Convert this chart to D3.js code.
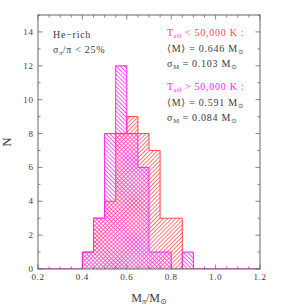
<!DOCTYPE html>
<html>
<head>
<meta charset="utf-8">
<script src="https://cdn.jsdelivr.net/npm/d3@7"></script>
<style>
  body { margin: 0; background: #fff; }
  svg text { font-family: "Liberation Serif", "DejaVu Serif", serif; fill: #3a3a3a; }
</style>
</head>
<body>
<svg id="chart" width="292" height="308"></svg>
<script>
// histogram bins (lower edges, width 0.05) and counts
var binLo = [0.40, 0.45, 0.50, 0.55, 0.60, 0.65, 0.70, 0.75, 0.80, 0.85];
var binWidth = 0.05;
var coolCounts = [1, 3, 4, 8, 9, 8, 7, 3, 3, 0];   // Teff < 50,000 K
var hotCounts  = [1, 3, 8, 12, 8, 6, 1, 1, 0, 1];  // Teff > 50,000 K
var xTickLabels = ["0.2", "0.4", "0.6", "0.8", "1.0", "1.2"];
var yTickLabels = ["0", "2", "4", "6", "8", "10", "12", "14"];

var svg = d3.select('#chart');
// note: "top" is a window global, so use other names
var pLeft = 38, pRight = 260, pTop = 15, pBottom = 269;
var red = '#ff4848', mag = '#ff22ff';

var x = d3.scaleLinear().domain([0.2, 1.2]).range([pLeft, pRight]);
var y = d3.scaleLinear().domain([0, 15]).range([pBottom, pTop]);

// hatch patterns
var defs = svg.append('defs');
function hatch(id, color, angle) {
    var p = defs.append('pattern').attr('id', id)
        .attr('patternUnits', 'userSpaceOnUse')
        .attr('width', 2.9).attr('height', 2.9)
        .attr('patternTransform', 'rotate(' + angle + ')');
    p.append('line').attr('x1', 0.5).attr('y1', 0).attr('x2', 0.5).attr('y2', 2.9)
        .attr('stroke', color).attr('stroke-width', 0.75);
}
hatch('hatchRed', red, 45);
hatch('hatchMag', mag, -45);

defs.append('clipPath').attr('id', 'plotClip').append('rect')
    .attr('x', pLeft).attr('y', pTop).attr('width', pRight - pLeft).attr('height', pBottom - pTop);

function stepPoints(counts) {
    var pts = [[x(0.2), y(0)], [x(binLo[0]), y(0)]];
    counts.forEach(function(c, i) {
        pts.push([x(binLo[i]), y(c)]);
        pts.push([x(binLo[i] + binWidth), y(c)]);
    });
    pts.push([x(binLo[binLo.length - 1] + binWidth), y(0)]);
    pts.push([x(1.2), y(0)]);
    return pts;
}
var line = d3.line();

var hist = svg.append('g').attr('clip-path', 'url(#plotClip)');
[[coolCounts, 'hatchRed'], [hotCounts, 'hatchMag']].forEach(function(h) {
    hist.append('path').attr('d', line(stepPoints(h[0])) + 'Z')
        .attr('fill', 'url(#' + h[1] + ')').attr('stroke', 'none');
});
[[coolCounts, red], [hotCounts, mag]].forEach(function(h) {
    hist.append('path').attr('d', line(stepPoints(h[0])))
        .attr('fill', 'none').attr('stroke', h[1]).attr('stroke-width', 1);
});

// frame
var frameColor = '#666';
svg.append('rect').attr('x', pLeft).attr('y', pTop).attr('width', pRight - pLeft).attr('height', pBottom - pTop)
    .attr('fill', 'none').attr('stroke', frameColor).attr('stroke-width', 1);

// ticks on all four sides, pointing in
var ticks = svg.append('g').attr('stroke', frameColor).attr('stroke-width', 0.8);
x.ticks(20).forEach(function(v, i) {
    var len = (i % 4 === 0) ? 4.5 : 2.5;
    ticks.append('line').attr('x1', x(v)).attr('x2', x(v)).attr('y1', pBottom).attr('y2', pBottom - len);
    ticks.append('line').attr('x1', x(v)).attr('x2', x(v)).attr('y1', pTop).attr('y2', pTop + len);
});
y.ticks(15).forEach(function(v) {
    var len = (v % 2 === 0) ? 4.5 : 2.5;
    ticks.append('line').attr('x1', pLeft).attr('x2', pLeft + len).attr('y1', y(v)).attr('y2', y(v));
    ticks.append('line').attr('x1', pRight).attr('x2', pRight - len).attr('y1', y(v)).attr('y2', y(v));
});

svg.append('g').selectAll('text').data(xTickLabels).enter().append('text')
    .attr('x', function(d) { return x(+d); }).attr('y', 279.5)
    .attr('text-anchor', 'middle').attr('font-size', 9).attr('letter-spacing', 0.6)
    .text(function(d) { return d; });
svg.append('g').selectAll('text').data(yTickLabels).enter().append('text')
    .attr('x', 33.5).attr('y', function(d) { return y(+d) + 3; })
    .attr('text-anchor', 'end').attr('font-size', 9).attr('letter-spacing', 0.6)
    .text(function(d) { return d; });

// axis titles
svg.append('text').attr('transform', 'translate(11,142) rotate(-90)')
    .attr('text-anchor', 'middle').attr('font-size', 13).text('N');
var xt = svg.append('text').attr('x', 149).attr('y', 302).attr('text-anchor', 'middle').attr('font-size', 12);
xt.append('tspan').text('M');
xt.append('tspan').attr('font-size', 8).attr('dy', 2).text('π');
xt.append('tspan').attr('dy', -2).text('/M');
xt.append('tspan').attr('font-size', 8).attr('dy', 2).attr('font-family', 'DejaVu Sans').text('⊙');

// annotations
var SANS = 'DejaVu Sans';
function note(xp, yp, parts, color) {
    var t = svg.append('text').attr('x', xp).attr('y', yp).attr('font-size', 10)
        .attr('letter-spacing', 0.75).style('fill', color || '#3a3a3a');
    var shift = 0;
    parts.forEach(function(p) {
        var sub = p[1] === 'sub';
        var ts = t.append('tspan').attr('dy', (sub ? 2 : 0) - shift).text(p[0]);
        if (sub) ts.attr('font-size', 6.5).attr('letter-spacing', 0.2);
        if (p[2]) ts.attr('font-family', p[2]);
        shift = sub ? 2 : 0;
    });
}
note(53, 37.5, [['He\u2212rich']]);
note(53, 52.5, [['σ'], ['π', 'sub'], ['/π  <  25%']]);
note(167, 36, [['T'], ['eff', 'sub'], ['  <  50,000 K :']], red);
note(167, 52, [['\u27E8', '', SANS], ['M'], ['\u27E9', '', SANS], ['  =  0.646 M'], ['⊙', 'sub', SANS]]);
note(167, 67, [['σ'], ['M', 'sub'], ['  =  0.103 M'], ['⊙', 'sub', SANS]]);
note(167, 90, [['T'], ['eff', 'sub'], ['  >  50,000 K :']], mag);
note(167, 106, [['\u27E8', '', SANS], ['M'], ['\u27E9', '', SANS], ['  =  0.591 M'], ['⊙', 'sub', SANS]]);
note(167, 121, [['σ'], ['M', 'sub'], ['  =  0.084 M'], ['⊙', 'sub', SANS]]);
</script>
</body>
</html>
